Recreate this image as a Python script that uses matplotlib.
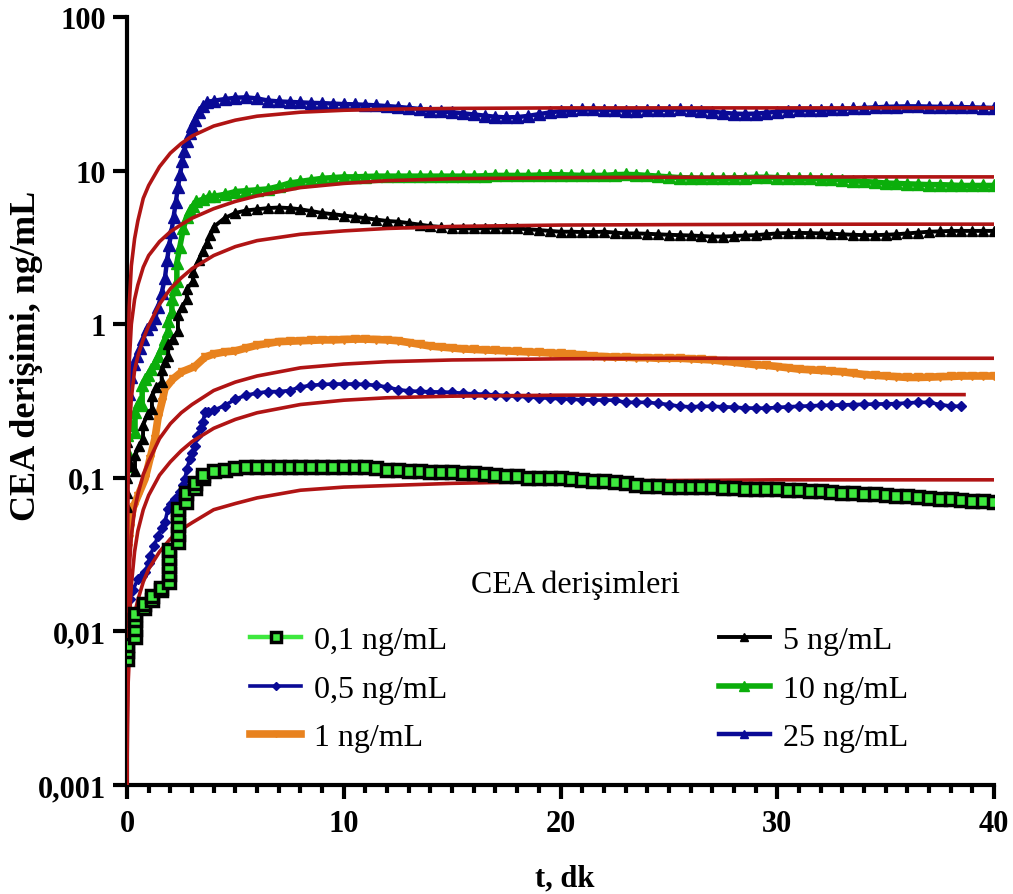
import matplotlib
matplotlib.use("Agg")
import matplotlib.pyplot as plt
from matplotlib.ticker import FixedLocator, FixedFormatter, MultipleLocator

plt.rcParams['font.family'] = ['Liberation Serif', 'DejaVu Serif']

# ---------------- data ----------------
t_late = [4.0, 4.5, 5.0, 5.5, 6.0, 6.5, 7.0, 7.5, 8.0, 8.5,
          9.0, 9.5, 10.0, 10.5, 11.0, 11.5, 12.0, 12.5, 13.0, 13.5,
          14.0, 14.5, 15.0, 15.5, 16.0, 16.5, 17.0, 17.5, 18.0, 18.5,
          19.0, 19.5, 20.0, 20.5, 21.0, 21.5, 22.0, 22.5, 23.0, 23.5,
          24.0, 24.5, 25.0, 25.5, 26.0, 26.5, 27.0, 27.5, 28.0, 28.5,
          29.0, 29.5, 30.0, 30.5, 31.0, 31.5, 32.0, 32.5, 33.0, 33.5,
          34.0, 34.5, 35.0, 35.5, 36.0, 36.5, 37.0, 37.5, 38.0, 38.5,
          39.0, 39.5, 40.0]

# 0,1 ng/mL
t01_early = [0, 0, 0, 0.39, 0.39, 0.39, 0.39, 0.78, 0.78, 1.17, 1.17, 1.56, 1.56,
             1.95, 1.95, 1.95, 1.95, 1.95, 2.34, 2.34, 2.34, 2.34, 2.34,
             2.73, 2.73, 3.12, 3.12, 3.51, 3.51]
v01_early = [0.0066, 0.0074, 0.0082, 0.0092, 0.0104, 0.0118, 0.013, 0.0142, 0.015,
             0.016, 0.017, 0.0185, 0.0192, 0.021, 0.0235, 0.0265, 0.030, 0.034,
             0.038, 0.043, 0.049, 0.056, 0.063, 0.070, 0.080, 0.086, 0.092, 0.099, 0.104]
v01_late = [0.111, 0.113, 0.115, 0.117, 0.118, 0.118, 0.118, 0.118, 0.118, 0.118,
            0.118, 0.118, 0.118, 0.118, 0.117, 0.115, 0.113, 0.113, 0.111, 0.110,
            0.109, 0.109, 0.109, 0.108, 0.107, 0.106, 0.104, 0.103, 0.102, 0.100,
            0.0995, 0.099, 0.099, 0.098, 0.097, 0.096, 0.0955, 0.094, 0.092, 0.090,
            0.089, 0.088, 0.087, 0.0867, 0.0867, 0.0867, 0.0867, 0.086, 0.0855, 0.085,
            0.0845, 0.0845, 0.084, 0.0835, 0.083, 0.0825, 0.082, 0.081, 0.080, 0.0795,
            0.079, 0.078, 0.077, 0.0765, 0.076, 0.075, 0.074, 0.073, 0.0727, 0.0722,
            0.071, 0.0705, 0.070]

# 0,5 ng/mL
t05_early = [0, 0, 0.14, 0.28, 0.5, 0.7, 0.83, 1.0, 1.06, 1.25, 1.43, 1.6, 1.75, 1.89,
             2.05, 2.21, 2.44, 2.6, 2.67, 2.76, 2.9, 3.0, 3.13, 3.23, 3.4, 3.5, 3.6, 3.75]
v05_early = [0.0115, 0.0128, 0.0163, 0.0187, 0.0219, 0.023, 0.0244, 0.028, 0.031, 0.036,
             0.0418, 0.047, 0.0515, 0.0626, 0.068, 0.0728, 0.081, 0.090, 0.098, 0.114,
             0.133, 0.145, 0.161, 0.187, 0.21, 0.231, 0.268, 0.270]
v05_late = [0.275, 0.295, 0.325, 0.345, 0.356, 0.364, 0.364, 0.370, 0.390, 0.400,
            0.405, 0.408, 0.408, 0.408, 0.405, 0.400, 0.390, 0.375, 0.368, 0.365,
            0.363, 0.362, 0.360, 0.355, 0.352, 0.350, 0.346, 0.343, 0.340, 0.336,
            0.333, 0.330, 0.327, 0.325, 0.322, 0.321, 0.321, 0.320, 0.310, 0.310,
            0.310, 0.305, 0.300, 0.292, 0.290, 0.292, 0.292, 0.290, 0.288, 0.285,
            0.284, 0.284, 0.287, 0.290, 0.292, 0.294, 0.296, 0.297, 0.298, 0.300,
            0.301, 0.302, 0.303, 0.304, 0.307, 0.310, 0.310, 0.300, 0.293, 0.292]

# 1 ng/mL
t1_early = [0, 0, 0, 0, 0.05, 0.1, 0.15, 0.2, 0.3, 0.5, 0.83, 1.06, 1.29, 1.43, 1.61,
            1.75, 2.12, 2.53, 3.13, 3.6]
v1_early = [0.014, 0.018, 0.024, 0.030, 0.035, 0.040, 0.047, 0.055, 0.065, 0.076, 0.098,
            0.133, 0.18, 0.245, 0.31, 0.38, 0.44, 0.49, 0.53, 0.61]
v1_late = [0.64, 0.66, 0.67, 0.70, 0.73, 0.75, 0.77, 0.775, 0.78, 0.785,
           0.79, 0.79, 0.795, 0.80, 0.80, 0.795, 0.79, 0.78, 0.76, 0.74,
           0.72, 0.71, 0.70, 0.69, 0.685, 0.68, 0.675, 0.67, 0.665, 0.66,
           0.655, 0.65, 0.645, 0.64, 0.63, 0.62, 0.615, 0.61, 0.61, 0.605,
           0.605, 0.60, 0.60, 0.60, 0.595, 0.59, 0.585, 0.575, 0.565, 0.555,
           0.545, 0.54, 0.53, 0.52, 0.51, 0.505, 0.50, 0.495, 0.49, 0.48,
           0.47, 0.465, 0.46, 0.455, 0.45, 0.45, 0.452, 0.455, 0.457, 0.46,
           0.46, 0.46, 0.46]

# 5 ng/mL
t5_early = [0, 0, 0, 0, 0, 0.2, 0.37, 0.37, 0.56, 0.74, 0.74, 0.95, 1.15, 1.15, 1.35,
            1.6, 1.6, 1.75, 1.9, 1.9, 2.1, 2.35, 2.35, 2.55, 2.76, 2.76, 3.04, 3.04,
            3.3, 3.5, 3.7, 3.85]
v5_early = [0.065, 0.08, 0.10, 0.13, 0.17, 0.12, 0.11, 0.14, 0.16, 0.18, 0.22, 0.26,
            0.28, 0.34, 0.39, 0.42, 0.50, 0.57, 0.62, 0.74, 0.80, 0.90, 1.15, 1.30,
            1.45, 1.70, 1.90, 2.20, 2.60, 3.00, 3.40, 3.80]
v5_late = [4.3, 4.9, 5.3, 5.5, 5.6, 5.7, 5.75, 5.7, 5.6, 5.45,
           5.3, 5.2, 5.1, 5.0, 4.9, 4.8, 4.7, 4.65, 4.55, 4.45,
           4.35, 4.3, 4.25, 4.2, 4.2, 4.22, 4.25, 4.25, 4.2, 4.15,
           4.1, 4.05, 4.0, 4.0, 3.98, 3.98, 4.0, 3.95, 3.9, 3.9,
           3.88, 3.85, 3.82, 3.8, 3.78, 3.75, 3.72, 3.72, 3.75, 3.78,
           3.8, 3.85, 3.9, 3.92, 3.93, 3.92, 3.9, 3.88, 3.85, 3.82,
           3.8, 3.8, 3.82, 3.85, 3.9, 3.95, 4.0, 4.02, 4.05, 4.05,
           4.05, 4.05, 4.05]

# 10 ng/mL
t10_early = [0, 0, 0, 0, 0.2, 0.37, 0.37, 0.55, 0.7, 0.7, 0.85, 0.97, 1.13, 1.29, 1.45,
             1.6, 1.75, 1.9, 1.9, 2.07, 2.07, 2.2, 2.3, 2.3, 2.44, 2.6, 2.75, 2.9, 3.05,
             3.2, 3.5, 3.8]
v10_early = [0.12, 0.15, 0.19, 0.24, 0.22, 0.20, 0.27, 0.31, 0.30, 0.40, 0.44, 0.47,
             0.51, 0.56, 0.62, 0.70, 0.80, 0.90, 1.05, 1.20, 1.45, 1.70, 1.90, 2.50,
             3.20, 4.20, 5.00, 5.50, 5.90, 6.30, 6.50, 6.80]
v10_late = [6.8, 7.0, 7.3, 7.4, 7.5, 7.6, 7.9, 8.3, 8.5, 8.7,
            8.9, 9.0, 9.1, 9.1, 9.15, 9.2, 9.2, 9.2, 9.2, 9.2,
            9.2, 9.2, 9.2, 9.2, 9.2, 9.25, 9.3, 9.3, 9.3, 9.3,
            9.35, 9.4, 9.4, 9.35, 9.3, 9.3, 9.3, 9.4, 9.45, 9.4,
            9.3, 9.2, 9.1, 9.0, 8.95, 8.9, 8.9, 8.9, 8.95, 9.0,
            9.05, 9.05, 9.0, 8.95, 8.9, 8.9, 8.85, 8.8, 8.7, 8.6,
            8.5, 8.4, 8.3, 8.25, 8.2, 8.15, 8.1, 8.1, 8.05, 8.0,
            8.0, 8.0, 8.0]

# 25 ng/mL
t25_early = [0.1, 0.2, 0.3, 0.45, 0.6, 0.75, 0.9, 1.1, 1.3, 1.45, 1.6, 1.75, 1.85, 1.95,
             2.05, 2.15, 2.25, 2.35, 2.45, 2.55, 2.65, 2.76, 2.9, 3.0, 3.13, 3.3, 3.5, 3.7]
v25_early = [0.35, 0.45, 0.55, 0.62, 0.70, 0.80, 0.93, 1.0, 1.1, 1.3, 1.6, 2.0, 2.6, 3.3,
             4.0, 5.0, 6.2, 7.8, 9.5, 11.5, 13.5, 15.5, 17.5, 19.5, 21.5, 24.0, 26.5, 28.0]
v25_late = [28.5, 29.2, 29.8, 30.0, 29.5, 28.6, 28.2, 28.0, 27.8, 27.6,
            27.5, 27.3, 27.1, 27.0, 26.8, 26.6, 26.3, 26.0, 25.6, 25.2,
            24.6, 24.3, 24.0, 23.6, 23.2, 22.8, 22.4, 22.2, 22.3, 22.7,
            23.3, 23.9, 24.4, 24.8, 25.0, 25.0, 24.9, 24.7, 24.6, 24.6,
            24.7, 24.8, 24.9, 25.0, 24.9, 24.6, 24.2, 23.8, 23.5, 23.4,
            23.5, 23.8, 24.2, 24.5, 24.7, 24.8, 24.9, 25.0, 25.2, 25.4,
            25.6, 25.8, 26.0, 26.1, 26.2, 26.2, 26.1, 26.0, 26.0, 25.9,
            25.8, 25.7, 25.6]

# fitted model curves
fit_t = [0, 0.02, 0.05, 0.1, 0.2, 0.35, 0.5, 0.75, 1, 1.5, 2, 2.5, 3, 4, 5, 6, 8, 10,
         12, 15, 20, 25, 30, 35, 40]
fit_01 = [0.001, 0.0025, 0.0045, 0.0065, 0.0095, 0.013, 0.016, 0.021, 0.0255, 0.033,
          0.040, 0.046, 0.051, 0.062, 0.068, 0.074, 0.083, 0.087, 0.089, 0.092, 0.095,
          0.096, 0.097, 0.097, 0.097]
fit_05 = [0.001, 0.003, 0.006, 0.011, 0.020, 0.033, 0.045, 0.062, 0.077, 0.104, 0.127,
          0.150, 0.172, 0.210, 0.240, 0.265, 0.300, 0.320, 0.332, 0.340, 0.345, 0.347,
          0.348, 0.348, 0.348]
fit_05_end = 38.7
fit_1 = [0.001, 0.006, 0.014, 0.025, 0.042, 0.062, 0.078, 0.105, 0.128, 0.18, 0.225,
         0.265, 0.30, 0.37, 0.42, 0.46, 0.52, 0.55, 0.57, 0.585, 0.595, 0.60, 0.60, 0.60, 0.60]
fit_5 = [0.001, 0.04, 0.10, 0.19, 0.33, 0.50, 0.62, 0.80, 0.98, 1.35, 1.70, 2.0, 2.3,
         2.8, 3.2, 3.5, 3.85, 4.05, 4.2, 4.33, 4.42, 4.45, 4.47, 4.48, 4.48]
fit_10 = [0.001, 0.12, 0.30, 0.55, 1.0, 1.45, 1.8, 2.35, 2.8, 3.45, 4.0, 4.45, 4.9,
          5.65, 6.3, 6.85, 7.75, 8.25, 8.6, 8.85, 9.0, 9.05, 9.08, 9.1, 9.1]
fit_25 = [0.001, 0.25, 0.6, 1.3, 2.4, 3.6, 4.7, 6.6, 8.0, 10.6, 13.0, 15.0, 16.8, 19.5,
          21.3, 22.6, 24.0, 24.7, 25.1, 25.4, 25.6, 25.6, 25.6, 25.6, 25.6]

labels = ['0,1 ng/mL', '0,5 ng/mL', '1 ng/mL', '5 ng/mL', '10 ng/mL', '25 ng/mL']
legend_title = 'CEA derişimleri'
y_ticks = [0.001, 0.01, 0.1, 1, 10, 100]
y_ticklabels = ['0,001', '0,01', '0,1', '1', '10', '100']
x_ticks = [0, 10, 20, 30, 40]

# ---------------- figure ----------------
W, H = 1013, 895
fig = plt.figure(figsize=(W / 100, H / 100), dpi=100)
ax = fig.add_axes([127 / W, 1 - 786 / H, (994 - 127) / W, (786 - 18) / H])

RED = '#B01414'
NAVY = '#0A0A96'
ORANGE = '#E8821E'
LGREEN = '#3EE83E'
GREEN = '#0BAE0B'


def series(te, ve, vl):
    n = min(len(vl), len(t_late))
    return list(te) + t_late[:n], list(ve) + list(vl[:n])


tt, vv = series(t01_early, v01_early, v01_late)
h01, = ax.plot(tt, vv, color=LGREEN, lw=3.2, marker='s', ms=9, mfc=LGREEN,
               mec='black', mew=2.5, zorder=6)
tt, vv = series(t05_early, v05_early, v05_late)
h05, = ax.plot(tt, vv, color=NAVY, lw=2.6, marker='D', ms=5.5, mfc=NAVY, mec=NAVY, zorder=4)
tt, vv = series(t1_early, v1_early, v1_late)
h1, = ax.plot(tt, vv, color=ORANGE, lw=5.5, marker='v', ms=6, mfc=ORANGE, mec=ORANGE, zorder=3)
tt, vv = series(t5_early, v5_early, v5_late)
h5, = ax.plot(tt, vv, color='black', lw=2.8, marker='^', ms=6.5, zorder=4)
tt, vv = series(t10_early, v10_early, v10_late)
h10, = ax.plot(tt, vv, color=GREEN, lw=4, marker='^', ms=8.5, mfc=GREEN, mec=GREEN, zorder=3)
tt, vv = series(t25_early, v25_early, v25_late)
h25, = ax.plot(tt, vv, color=NAVY, lw=3.2, marker='^', ms=8, mfc=NAVY, mec=NAVY, zorder=3)

fit_t05 = [t for t in fit_t if t < fit_05_end] + [fit_05_end]
for fv, ft in [(fit_01, fit_t), (fit_05, fit_t05), (fit_1, fit_t), (fit_5, fit_t),
               (fit_10, fit_t), (fit_25, fit_t)]:
    ax.plot(ft, fv[:len(ft)], color=RED, lw=2.6, zorder=5, solid_capstyle='butt')

ax.set_yscale('log')
ax.set_ylim(0.001, 100)
ax.set_xlim(0, 40)

for s in ['top', 'right']:
    ax.spines[s].set_visible(False)
for s in ['left', 'bottom']:
    ax.spines[s].set_linewidth(3)
    ax.spines[s].set_capstyle('projecting')

ax.yaxis.set_major_locator(FixedLocator(y_ticks))
ax.yaxis.set_major_formatter(FixedFormatter(y_ticklabels))
ax.yaxis.set_minor_locator(FixedLocator([]))
ax.xaxis.set_major_locator(FixedLocator(x_ticks))
ax.xaxis.set_minor_locator(MultipleLocator(1))

ax.tick_params(axis='both', which='major', length=10, width=3, direction='out',
               labelsize=22, pad=5)
ax.tick_params(axis='x', which='major', pad=7)
ax.tick_params(axis='x', which='minor', length=6, width=3, direction='out')
for lab in ax.get_xticklabels() + ax.get_yticklabels():
    lab.set_fontweight('bold')

fig.text(27 / W, 1 - 356 / H, 'CEA derişimi, ng/mL', rotation=90, ha='center',
         va='center', fontsize=26, fontweight='bold')
fig.text(565 / W, 1 - 879 / H, 't, dk', ha='center', va='center', fontsize=22,
         fontweight='bold')

fig.text(575 / W, 1 - 585 / H, legend_title, ha='center', va='center', fontsize=23)

leg = ax.legend([h01, h05, h1, h5, h10, h25], labels, ncol=2, frameon=False,
                loc='upper left',
                bbox_to_anchor=(250 / W, 1 - 627 / H), bbox_transform=fig.transFigure,
                fontsize=23, handlelength=1.6, handletextpad=0.4,
                columnspacing=8.5, labelspacing=0.6, numpoints=1, borderpad=0,
                borderaxespad=0, markerscale=0.8)
leg.set_zorder(10)

fig.savefig('out.png', dpi=100)
